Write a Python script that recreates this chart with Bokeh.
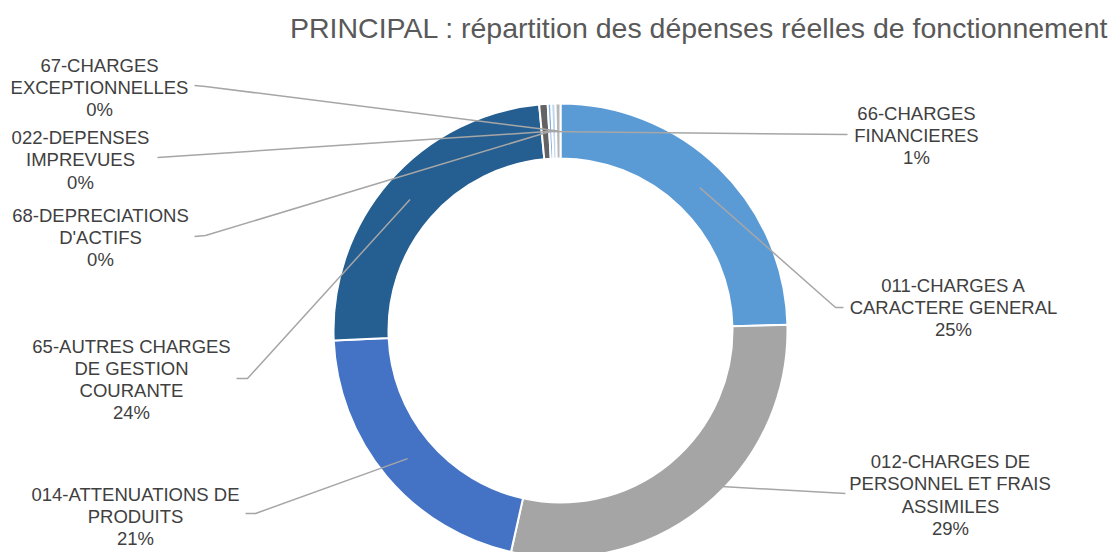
import math
from bokeh.plotting import figure
from bokeh.models import Range1d, ColumnDataSource
from bokeh.embed import file_html
from bokeh.resources import INLINE
from bokeh.core.properties import value

# ---------------- data ----------------
title = "PRINCIPAL : répartition des dépenses réelles de fonctionnement"
categories = [
    "011-CHARGES A\nCARACTERE GENERAL",
    "012-CHARGES DE\nPERSONNEL ET FRAIS\nASSIMILES",
    "014-ATTENUATIONS DE\nPRODUITS",
    "65-AUTRES CHARGES\nDE GESTION\nCOURANTE",
    "66-CHARGES\nFINANCIERES",
    "68-DEPRECIATIONS\nD'ACTIFS",
    "022-DEPENSES\nIMPREVUES",
    "67-CHARGES\nEXCEPTIONNELLES",
]
values = [24.6, 28.9, 20.8, 24.2, 0.6, 0.25, 0.3, 0.35]
colors = ["#5B9BD5", "#A5A5A5", "#4472C4", "#255E91",
          "#636363", "#7CAFDD", "#BDD7EE", "#B7B7B7"]

# ---------------- layout (reference pixel coordinates) ----------------
W, H = 1111, 552
CX, CY = 560, 330          # ring centre (screen px)
R_OUT, R_IN = 227, 172
label_x = [953, 950, 135, 131, 916, 100, 80, 99]
label_y = [307, 494.5, 516, 379, 135, 237, 159.5, 87]
anchor = [(843, 307), (845, 493), (245, 513), (236, 378),
          (847, 134), (194, 236), (157, 157), (194, 85)]
elbow = [(835, 307), None, (255, 513), (247, 378),
         None, (205, 235), None, (205, 86)]


def ys(y):
    # screen y -> data y (data y axis points up)
    return H - y


total = sum(values)
pcts = [f"{round(v / total * 100)}%" for v in values]
texts = [c + "\n" + p for c, p in zip(categories, pcts)]

starts, ends, mids = [], [], []
acc = 0.0
for v in values:
    a0 = acc / total * 360.0
    acc += v
    a1 = acc / total * 360.0
    starts.append(math.radians(90 - a0))
    ends.append(math.radians(90 - a1))
    mids.append((a0 + a1) / 2)

p = figure(width=W, height=H, output_backend="svg", toolbar_location=None,
           x_range=Range1d(0, W), y_range=Range1d(0, H),
           x_axis_location=None, y_axis_location=None, min_border=0)
p.xgrid.visible = False
p.ygrid.visible = False
p.outline_line_color = None
p.background_fill_color = "white"
p.border_fill_color = "white"

src = ColumnDataSource(dict(start=starts, end=ends, color=colors))
p.annular_wedge(x=CX, y=ys(CY), inner_radius=R_IN, outer_radius=R_OUT,
                start_angle="start", end_angle="end", direction="clock",
                fill_color="color", line_color="white", line_width=2,
                source=src)

# leader lines
rm = (R_IN + R_OUT) / 2
for i, m in enumerate(mids):
    px = CX + rm * math.sin(math.radians(m))
    py = CY - rm * math.cos(math.radians(m))
    xs_ = [anchor[i][0]]
    yy_ = [anchor[i][1]]
    if elbow[i] is not None:
        xs_.append(elbow[i][0]); yy_.append(elbow[i][1])
    xs_.append(px); yy_.append(py)
    p.line(xs_, [ys(y) for y in yy_], line_color="#A6A6A6", line_width=1.5)

p.text(x=label_x, y=[ys(y) for y in label_y], text=texts,
       text_align="center", text_baseline="middle",
       text_font=value("Liberation Sans"), text_font_size=value("18.5px"),
       text_color="#404040", text_line_height=1.05)

p.text(x=[1108], y=[ys(27)], text=[title], text_align="right",
       text_baseline="middle", text_font=value("Liberation Sans"),
       text_font_size=value("28.5px"), text_color="#595959")

open("out.html", "w").write(file_html(p, INLINE))
